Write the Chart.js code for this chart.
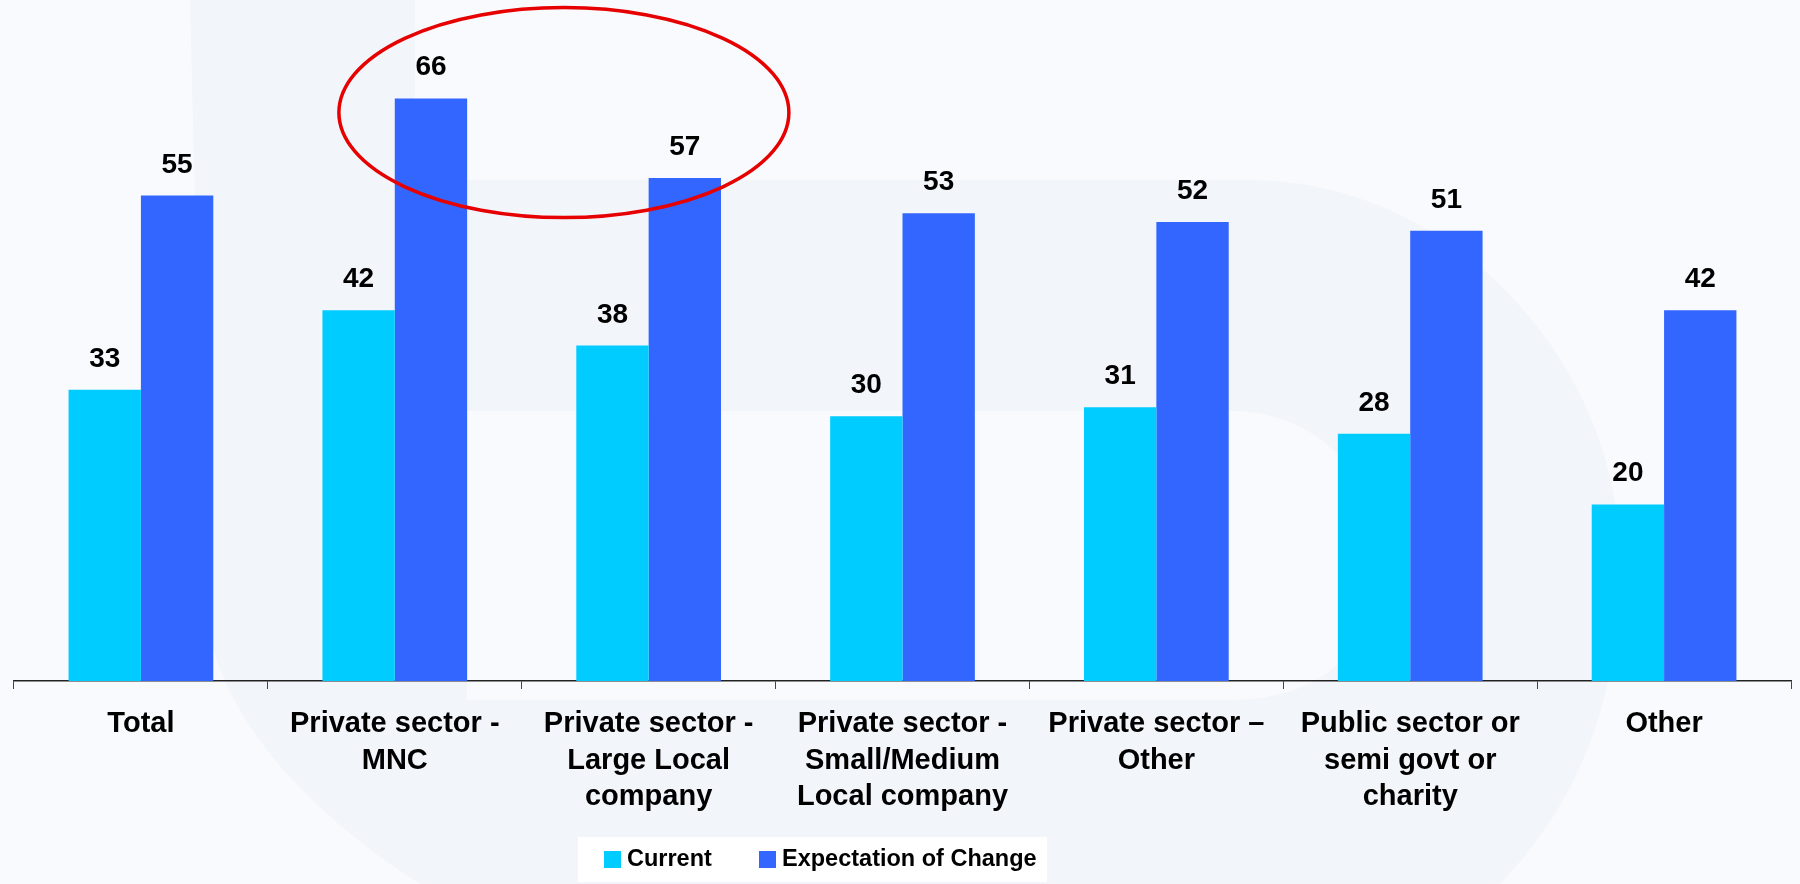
<!DOCTYPE html>
<html>
<head>
<meta charset="utf-8">
<title>Current vs Expectation of Change by sector</title>
<script src="https://cdn.jsdelivr.net/npm/chart.js@4.4.0/dist/chart.umd.min.js"></script>
<style>
  html, body { margin: 0; padding: 0; background: #f9fafd; }
  canvas { display: block; }
</style>
</head>
<body>
<canvas id="chart" width="1800" height="884"></canvas>
<script>
// ===== Data =====
const categories = [
  ["Total"],
  ["Private sector -", "MNC"],
  ["Private sector -", "Large Local", "company"],
  ["Private sector -", "Small/Medium", "Local company"],
  ["Private sector \u2013", "Other"],
  ["Public sector or", "semi govt or", "charity"],
  ["Other"]
];
const currentValues = [33, 42, 38, 30, 31, 28, 20];
const expectationValues = [55, 66, 57, 53, 52, 51, 42];
const seriesNames = ["Current", "Expectation of Change"];
const seriesColors = ["#00ccff", "#3366ff"];

const FONT = '"Liberation Sans", Arial, sans-serif';

// ===== Faint logo shape in the background =====
const backdrop = {
  id: "backdrop",
  beforeDraw(chart) {
    const ctx = chart.ctx;
    ctx.save();
    ctx.fillStyle = "#f9fafd";
    ctx.fillRect(0, 0, chart.width, chart.height);

    // stem + bowl
    ctx.fillStyle = "#f2f5fa";
    ctx.beginPath();
    ctx.moveTo(190, 0);
    ctx.lineTo(415, 0);
    ctx.lineTo(415, 180);
    ctx.lineTo(1250, 180);
    ctx.bezierCurveTo(1450, 180, 1620, 360, 1620, 560);
    ctx.bezierCurveTo(1620, 700, 1580, 800, 1500, 884);
    ctx.lineTo(420, 884);
    ctx.bezierCurveTo(290, 800, 210, 700, 205, 600);
    ctx.closePath();
    ctx.fill();

    // inner counter
    ctx.fillStyle = "#f9fafd";
    ctx.beginPath();
    ctx.moveTo(467, 411);
    ctx.lineTo(1230, 411);
    ctx.bezierCurveTo(1320, 411, 1380, 480, 1380, 560);
    ctx.bezierCurveTo(1380, 640, 1330, 700, 1230, 700);
    ctx.lineTo(467, 700);
    ctx.closePath();
    ctx.fill();
    ctx.restore();
  }
};

// ===== Red ring round the two top private-sector bars =====
const highlight = {
  id: "highlight",
  afterDatasetsDraw(chart) {
    const ctx = chart.ctx;
    const bars = chart.getDatasetMeta(1).data;
    const cx = (bars[1].x + bars[2].x) / 2 + 6;
    const cy = chart.scales.y.getPixelForValue(64.4);
    ctx.save();
    ctx.strokeStyle = "#e60000";
    ctx.lineWidth = 3.5;
    ctx.beginPath();
    ctx.ellipse(cx, cy, 225, 105, 0, 0, Math.PI * 2);
    ctx.stroke();
    ctx.restore();
  }
};

// ===== Value above each bar =====
const valueLabels = {
  id: "valueLabels",
  afterDatasetsDraw(chart) {
    const ctx = chart.ctx;
    ctx.save();
    ctx.font = `bold 28px ${FONT}`;
    ctx.fillStyle = "#000";
    ctx.textAlign = "center";
    ctx.textBaseline = "alphabetic";
    chart.data.datasets.forEach((ds, i) => {
      chart.getDatasetMeta(i).data.forEach((bar, j) => {
        ctx.fillText(ds.data[j], bar.x, bar.y - 23);
      });
    });
    ctx.restore();
  }
};

// ===== Legend in a white box =====
const legendBox = {
  id: "legendBox",
  afterDraw(chart) {
    const ctx = chart.ctx;
    const itemX = [604, 759];
    ctx.save();
    ctx.fillStyle = "#ffffff";
    ctx.fillRect(578, 837, 469, 45);
    ctx.font = `bold 23.5px ${FONT}`;
    ctx.textAlign = "left";
    ctx.textBaseline = "alphabetic";
    chart.data.datasets.forEach((ds, i) => {
      ctx.fillStyle = ds.backgroundColor;
      ctx.fillRect(itemX[i], 851, 17, 17);
      ctx.fillStyle = "#000";
      ctx.fillText(ds.label, itemX[i] + 23, 866);
    });
    ctx.restore();
  }
};

// ===== Chart =====
new Chart(document.getElementById("chart"), {
  type: "bar",
  data: {
    labels: categories,
    datasets: [
      { label: seriesNames[0], data: currentValues, backgroundColor: seriesColors[0], categoryPercentage: 0.57, barPercentage: 1 },
      { label: seriesNames[1], data: expectationValues, backgroundColor: seriesColors[1], categoryPercentage: 0.57, barPercentage: 1 }
    ]
  },
  options: {
    responsive: false,
    animation: false,
    devicePixelRatio: 1,
    layout: { padding: { left: 14, right: 9, top: 19, bottom: 51.5 } },
    plugins: {
      legend: { display: false },
      tooltip: { enabled: false }
    },
    scales: {
      x: {
        border: { color: "#222", width: 1.5 },
        grid: { drawOnChartArea: false, color: "#444", tickLength: 8, offset: true },
        ticks: {
          color: "#000",
          font: { family: FONT, size: 29, weight: "bold", lineHeight: 1.2586 },
          padding: 17,
          maxRotation: 0,
          autoSkip: false
        }
      },
      y: { display: false, min: 0, max: 75 }
    }
  },
  plugins: [backdrop, highlight, valueLabels, legendBox]
});
</script>
</body>
</html>
